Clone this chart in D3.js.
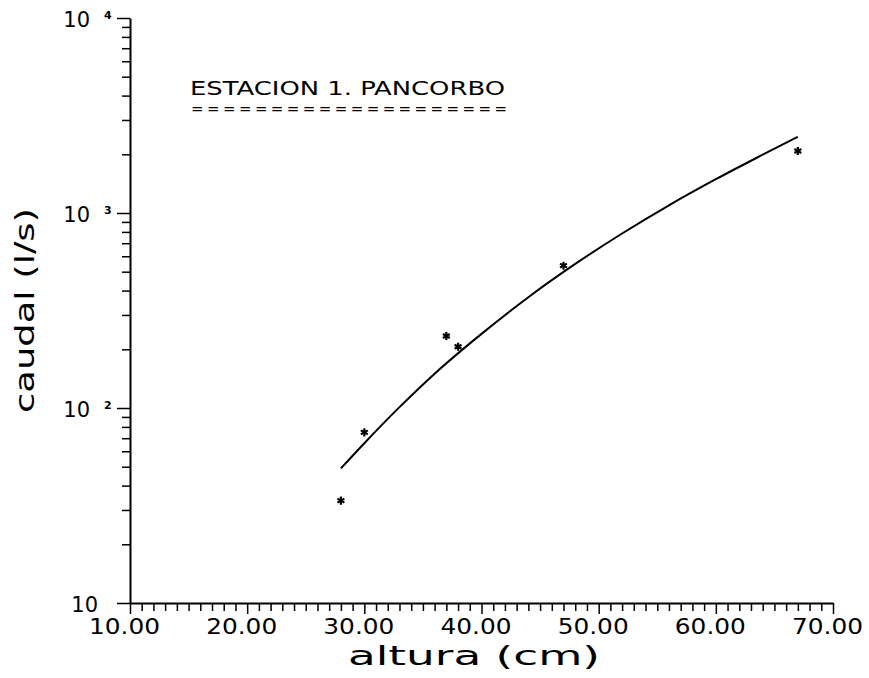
<!DOCTYPE html>
<html>
<head>
<meta charset="utf-8">
<script src="https://cdn.jsdelivr.net/npm/d3@7"></script>
<style>
    body { margin: 0; background: #fff; }
    text { font-family: "DejaVu Sans", sans-serif; fill: #000; }
</style>
</head>
<body>
<div id="chart"></div>
<script>
// measured points: altura (cm) vs caudal (l/s)
const altura = [28.0, 30.0, 37.0, 38.0, 47.0, 67.0];
const caudal = [33.5, 75, 234, 206, 537, 2080];

// fitted rating curve
const curveAltura = [28, 30, 33, 36, 40, 44, 48, 52, 56, 60, 64, 67];
const curveCaudal = [49, 66, 101, 150, 240, 370, 548, 785, 1095, 1490, 1990, 2460];

const xTicks = [10, 20, 30, 40, 50, 60, 70];
const yDecades = [10, 100, 1000, 10000];
const yExponents = ["", "2", "3", "4"];

document.addEventListener('DOMContentLoaded', () => {
    const margin = { top: 18, right: 36, bottom: 75, left: 130 },
        width = 869 - margin.left - margin.right,
        height = 678 - margin.top - margin.bottom;

    const root = d3.select("#chart")
        .append("svg")
        .attr("width", 869)
        .attr("height", 678);

    const svg = root.append("g")
        .attr("transform", `translate(${margin.left},${margin.top})`);

    const x = d3.scaleLinear().domain([10, 70]).range([0, width]);
    const y = d3.scaleLog().domain([10, 10000]).range([height, 0]);

    // x minor ticks every 1 cm
    const xMinor = d3.range(10, 71, 1).filter(v => v % 10 !== 0);
    svg.append("g")
        .attr("transform", `translate(0,${height})`)
        .call(d3.axisBottom(x).tickValues(xMinor).tickSize(8).tickFormat(""))
        .call(g => g.select(".domain").remove())
        .selectAll("line").attr("stroke-width", 1.5);

    // x major ticks + labels
    const xAxis = svg.append("g")
        .attr("transform", `translate(0,${height})`)
        .call(d3.axisBottom(x).tickValues(xTicks).tickSize(11).tickSizeOuter(0)
            .tickFormat(d3.format(".2f")));
    xAxis.select(".domain").attr("stroke-width", 2);
    xAxis.selectAll("line").attr("stroke-width", 1.5);
    xAxis.selectAll("text")
        .attr("y", 16)
        .attr("dx", -6)
        .style("font-size", "21px")
        .attr("textLength", 71)
        .attr("lengthAdjust", "spacingAndGlyphs");

    // y minor ticks 2..9 per decade
    const yMinor = [];
    yDecades.slice(0, 3).forEach(d => {
        for (let k = 2; k <= 9; k++) yMinor.push(d * k);
    });
    svg.append("g")
        .call(d3.axisLeft(y).tickValues(yMinor).tickSize(8).tickFormat(""))
        .call(g => g.select(".domain").remove())
        .selectAll("line").attr("stroke-width", 1.5);

    // y major ticks
    const yAxis = svg.append("g")
        .call(d3.axisLeft(y).tickValues(yDecades).tickSize(13).tickSizeOuter(0).tickFormat(""));
    yAxis.select(".domain").attr("stroke-width", 2);
    yAxis.selectAll("line").attr("stroke-width", 1.5);

    // y labels: 10 with superscript exponent
    const yLab = svg.append("g");
    yDecades.forEach((d, i) => {
        yLab.append("text")
            .attr("x", yExponents[i] ? -40 : -32)
            .attr("y", y(d) + 9)
            .attr("text-anchor", "end")
            .style("font-size", "21px")
            .text("10");
        if (yExponents[i]) {
            yLab.append("text")
                .attr("x", -26)
                .attr("y", y(d) + 1)
                .style("font-size", "11px")
                .style("font-weight", "bold")
                .text(yExponents[i]);
        }
    });

    // fitted curve
    const line = d3.line()
        .x((d, i) => x(curveAltura[i]))
        .y(d => y(d))
        .curve(d3.curveMonotoneX);

    svg.append("path")
        .datum(curveCaudal)
        .attr("fill", "none")
        .attr("stroke", "#000")
        .attr("stroke-width", 2)
        .attr("d", line);

    // measured points as asterisks
    svg.selectAll(".pt")
        .data(altura)
        .enter()
        .append("path")
        .attr("class", "pt")
        .attr("transform", (d, i) => `translate(${x(d)},${y(caudal[i])})`)
        .attr("d", d3.symbol().type(d3.symbolAsterisk).size(45))
        .attr("fill", "none")
        .attr("stroke", "#000")
        .attr("stroke-width", 2.2);

    // title
    root.append("text")
        .attr("x", 190)
        .attr("y", 95)
        .style("font-size", "19px")
        .attr("textLength", 315)
        .attr("lengthAdjust", "spacingAndGlyphs")
        .text("ESTACION  1.  PANCORBO");

    root.append("text")
        .attr("x", 191)
        .attr("y", 113.5)
        .style("font-size", "15px")
        .attr("textLength", 316)
        .attr("lengthAdjust", "spacing")
        .text("====================");

    // axis titles
    root.append("text")
        .attr("x", 348)
        .attr("y", 665)
        .style("font-size", "26px")
        .attr("textLength", 252)
        .attr("lengthAdjust", "spacingAndGlyphs")
        .text("altura  (cm)");

    root.append("text")
        .attr("transform", "translate(34,413)rotate(-90)")
        .style("font-size", "27px")
        .attr("textLength", 205)
        .attr("lengthAdjust", "spacingAndGlyphs")
        .text("caudal  (l/s)");
});
</script>
</body>
</html>
